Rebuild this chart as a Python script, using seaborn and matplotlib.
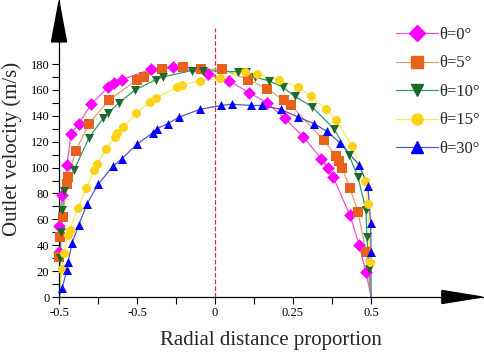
import numpy as np
import pandas as pd
import seaborn as sns
import matplotlib.pyplot as plt
from matplotlib.patches import Polygon

# datos (posicion radial, velocidad de salida)
x_0 = [-0.5, -0.499, -0.49, -0.474, -0.462, -0.436, -0.397, -0.343, -0.324, -0.298, -0.205, -0.135,
       -0.022, 0.045, 0.109, 0.167, 0.224, 0.282, 0.340, 0.362, 0.378, 0.433, 0.462, 0.484]
v_0 = [35, 55, 79, 102, 126, 134, 149, 162, 165, 168, 176, 178,
       172, 167, 158, 150, 138, 124, 107, 100, 93, 63, 40, 19]

x_5 = [-0.499, -0.498, -0.488, -0.475, -0.471, -0.446, -0.404, -0.340, -0.250, -0.228, -0.170, -0.103,
       -0.045, 0.022, 0.106, 0.167, 0.221, 0.244, 0.349, 0.388, 0.397, 0.407, 0.433, 0.458, 0.484]
v_5 = [31, 46, 62, 87, 93, 113, 134, 152, 168, 170, 176, 178,
       176, 176, 168, 161, 152, 148, 121, 109, 105, 100, 84, 66, 35]

x_10 = [-0.496, -0.493, -0.489, -0.483, -0.452, -0.404, -0.359, -0.343, -0.308, -0.256, -0.189, -0.167,
        -0.074, -0.038, 0.074, 0.099, 0.128, 0.173, 0.218, 0.256, 0.311, 0.381, 0.429, 0.458,
        0.484, 0.487, 0.494]
v_10 = [30, 50, 67, 82, 98, 123, 138, 142, 150, 160, 168, 170,
        175, 175, 174, 174, 170, 167, 162, 155, 147, 130, 110, 93,
        67, 46, 22]

x_15 = [-0.490, -0.484, -0.471, -0.465, -0.439, -0.413, -0.388, -0.378, -0.349, -0.321, -0.314, -0.295,
        -0.253, -0.208, -0.189, -0.122, -0.106, -0.048, 0.016, 0.096, 0.135, 0.205, 0.266, 0.308,
        0.356, 0.388, 0.439, 0.481, 0.490, 0.497]
v_15 = [22, 34, 48, 52, 69, 84, 98, 103, 114, 124, 127, 131,
        142, 151, 154, 162, 164, 167, 169, 174, 172, 168, 162, 155,
        145, 137, 117, 90, 72, 27]

x_30 = [-0.490, -0.474, -0.471, -0.458, -0.436, -0.410, -0.375, -0.327, -0.298, -0.250, -0.199, -0.186,
        -0.151, -0.115, -0.048, 0.019, 0.054, 0.115, 0.151, 0.212, 0.266, 0.317, 0.359, 0.401,
        0.462, 0.490, 0.499, 0.5]
v_30 = [7, 21, 27, 42, 56, 72, 87, 101, 107, 118, 127, 130,
        134, 139, 145, 148, 149, 148, 148, 145, 139, 134, 128, 119,
        102, 86, 57, 35]

etiquetas = ["θ=0°", "θ=5°", "θ=10°", "θ=15°", "θ=30°"]
series_x = [x_0, x_5, x_10, x_15, x_30]
series_v = [v_0, v_5, v_10, v_15, v_30]

marcadores = ["D", "s", "v", "o", "^"]
col_marca = ["#FF00FF", "#E8621C", "#1C6B2C", "#FFD21A", "#0000FF"]
col_linea = ["#F050D0", "#DDA070", "#2A9A6A", "#F2EE50", "#5555C0"]

xticks = [-0.5, -0.25, 0, 0.25, 0.5]
xtick_labels = ["-0.5", "-0.5", "0", "0.25", "0.5"]

sns.set_theme(style="ticks")
plt.rcParams["font.family"] = ["Liberation Serif", "DejaVu Serif"]

fig = plt.figure(figsize=(4.84, 3.55), dpi=100)
ax = fig.add_axes([59 / 484, 58 / 355, 424 / 484, 297 / 355])

for lab, xs, vs, m, cm, cl in zip(etiquetas, series_x, series_v, marcadores, col_marca, col_linea):
    # la linea llega a la pared (v=0 en +-0.5)
    linea = pd.DataFrame({"x": [-0.5] + xs + [0.5], "v": [0] + vs + [0]})
    sns.lineplot(data=linea, x="x", y="v", sort=False, estimator=None, color=cl, lw=0.9, ax=ax)
    puntos = pd.DataFrame({"x": xs, "v": vs})
    sns.scatterplot(data=puntos, x="x", y="v", marker=m, color=cm, s=42, linewidth=0, ax=ax,
                    clip_on=False, zorder=3)
    ax.plot([], [], color=cl, lw=0.9, marker=m, markerfacecolor=cm, markeredgecolor=cm,
            markersize=8, label=lab)

# linea de simetria
ax.axvline(0, ymin=0, ymax=208 / 229.5, color="#CC3344", ls="--", lw=0.9, zorder=1)

ax.set_xlim(-0.5, 0.859)
ax.set_ylim(0, 229.5)
ax.set_xticks(xticks)
ax.set_xticklabels(xtick_labels)
ax.set_xticks([-0.375, -0.125, 0.125, 0.375], minor=True)
ax.set_yticks(range(0, 181, 20))
ax.set_yticks(range(10, 181, 20), minor=True)
ax.tick_params(axis="both", which="both", direction="out", length=5, width=0.8, labelsize=9,
               colors="black", pad=2)

sns.despine(ax=ax)
for s in ["left", "bottom"]:
    ax.spines[s].set_color("black")
    ax.spines[s].set_linewidth(0.9)

# flechas de los ejes
ax.add_patch(Polygon([[-0.0177, 0.859], [0.0177, 0.859], [0, 0.995]], closed=True,
                     transform=ax.transAxes, color="black", clip_on=False))
ax.add_patch(Polygon([[0.903, -0.0219], [0.903, 0.0219], [0.998, 0]], closed=True,
                     transform=ax.transAxes, color="black", clip_on=False))

ax.set_xlabel("Radial distance proportion", fontsize=15, labelpad=9)
ax.set_ylabel("Outlet velocity (m/s)", fontsize=15, labelpad=6)

ax.legend(loc="upper left", bbox_to_anchor=(396 / 484, 0.924), bbox_transform=fig.transFigure,
          frameon=False, fontsize=12, handlelength=2.5, handletextpad=0.1, labelspacing=0.75,
          borderpad=0, borderaxespad=0)

fig.savefig("out.png", dpi=100)
